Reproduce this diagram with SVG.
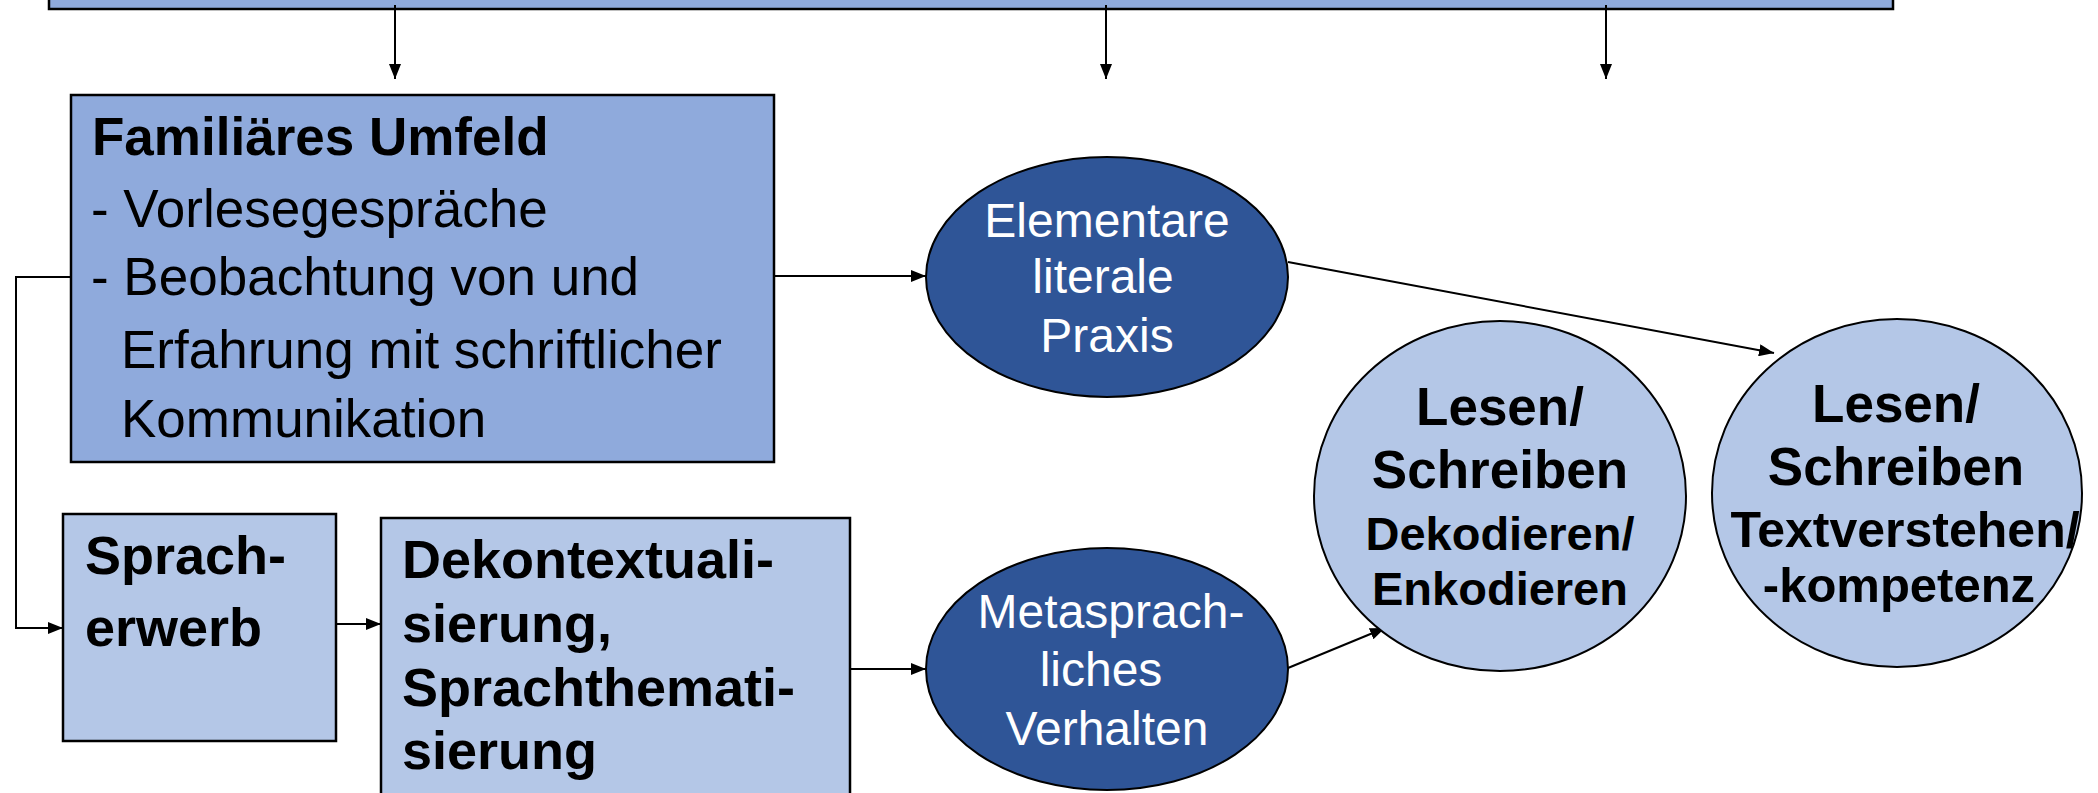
<svg xmlns="http://www.w3.org/2000/svg" width="2098" height="793" viewBox="0 0 2098 793">
<style>
.box{stroke:#000;stroke-width:2.5}
.mid{fill:#8FAADC}
.light{fill:#B4C7E7}
.dark{fill:#2F5597;stroke:#000;stroke-width:2}
.lell{fill:#B4C7E7;stroke:#000;stroke-width:2}
.t{font-family:"Liberation Sans",Arial,sans-serif;fill:#000}
.b{font-weight:bold}
.w{fill:#fff;font-size:48px;text-anchor:middle}
.c{text-anchor:middle;font-weight:bold}
.ln{fill:none;stroke:#000;stroke-width:2;marker-end:url(#ah)}
</style>
<defs>
<marker id="ah" markerUnits="userSpaceOnUse" markerWidth="15" markerHeight="12" viewBox="0 0 15 12" refX="15" refY="6" orient="auto">
<path d="M0,0 L15,6 L0,12 z" fill="#000"/>
</marker>
</defs>
<rect width="2098" height="793" fill="#fff"/>
<g id="top">
<rect class="box mid" x="49" y="-20" width="1844" height="29"/>
</g>
<g id="connectors">
<line class="ln" x1="395" y1="5" x2="395" y2="79"/>
<line class="ln" x1="1106" y1="5" x2="1106" y2="79"/>
<line class="ln" x1="1606" y1="5" x2="1606" y2="79"/>
<line class="ln" x1="774" y1="276" x2="926" y2="276"/>
<polyline class="ln" points="71,277 16,277 16,628 63,628"/>
<line class="ln" x1="336" y1="624" x2="381" y2="624"/>
<line class="ln" x1="850" y1="669" x2="926" y2="669"/>
<line class="ln" x1="1288" y1="262" x2="1774" y2="353"/>
<line class="ln" x1="1288" y1="668" x2="1385" y2="628"/>
</g>
<g id="familiaeres">
<rect class="box mid" x="71" y="95" width="703" height="367"/>
<text class="t b" x="92" y="155" font-size="53">Familiäres Umfeld</text>
<text class="t" x="91" y="227" font-size="53">- Vorlesegespräche</text>
<text class="t" x="91" y="295" font-size="53">- Beobachtung von und</text>
<text class="t" x="121" y="368" font-size="53">Erfahrung mit schriftlicher</text>
<text class="t" x="121" y="437" font-size="53">Kommunikation</text>
</g>
<g id="elementare">
<ellipse class="dark" cx="1107" cy="277" rx="181" ry="120"/>
<text class="t w" x="1107" y="237">Elementare</text>
<text class="t w" x="1103" y="293">literale</text>
<text class="t w" x="1107" y="352">Praxis</text>
</g>
<g id="sprach">
<rect class="box light" x="63" y="514" width="273" height="227"/>
<text class="t b" x="85" y="574" font-size="54">Sprach-</text>
<text class="t b" x="85" y="646" font-size="54">erwerb</text>
</g>
<g id="dekont">
<rect class="box light" x="381" y="518" width="469" height="300"/>
<text class="t b" x="402" y="578" font-size="54">Dekontextuali-</text>
<text class="t b" x="402" y="642" font-size="54">sierung,</text>
<text class="t b" x="402" y="706" font-size="54">Sprachthemati-</text>
<text class="t b" x="402" y="769" font-size="54">sierung</text>
</g>
<g id="metasprach">
<ellipse class="dark" cx="1107" cy="669" rx="181" ry="121"/>
<text class="t w" x="1111" y="628">Metasprach-</text>
<text class="t w" x="1101" y="686">liches</text>
<text class="t w" x="1107" y="745">Verhalten</text>
</g>
<g id="lesen1">
<ellipse class="lell" cx="1500" cy="496" rx="186" ry="175"/>
<text class="t c" x="1500" y="425" font-size="53">Lesen/</text>
<text class="t c" x="1500" y="488" font-size="53">Schreiben</text>
<text class="t c" x="1500" y="550" font-size="47">Dekodieren/</text>
<text class="t c" x="1500" y="605" font-size="47">Enkodieren</text>
</g>
<g id="lesen2">
<ellipse class="lell" cx="1897" cy="493" rx="185" ry="174"/>
<text class="t c" x="1896" y="422" font-size="53">Lesen/</text>
<text class="t c" x="1896" y="485" font-size="53">Schreiben</text>
<text class="t c" x="1905" y="547" font-size="50">Textverstehen/</text>
<text class="t c" x="1899" y="602" font-size="49">-kompetenz</text>
</g>
</svg>
